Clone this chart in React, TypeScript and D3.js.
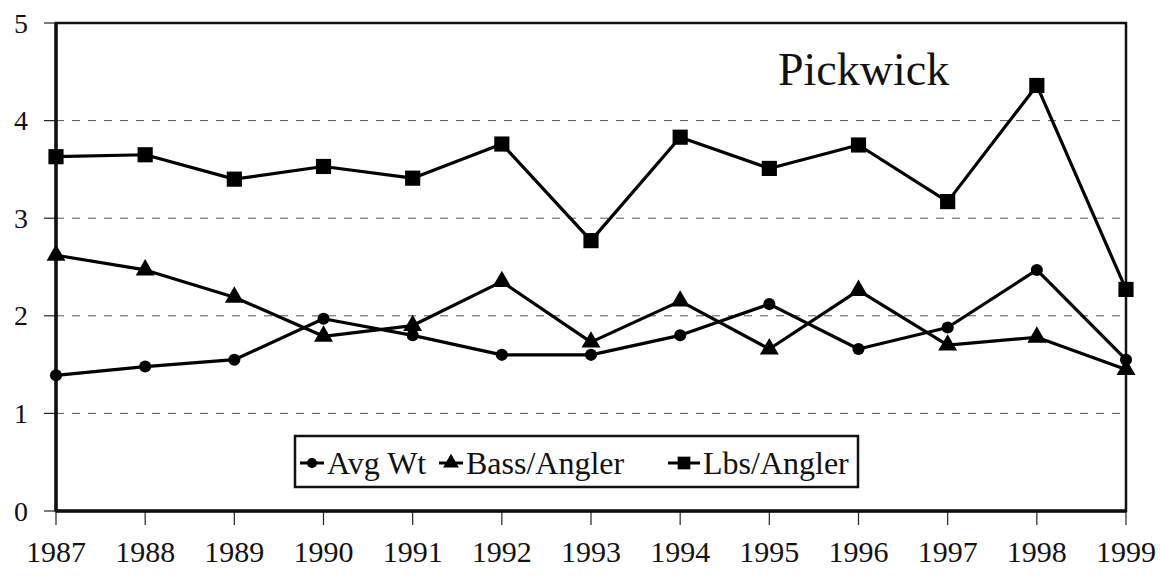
import React from 'react';
import * as d3 from 'd3';

// values
const years = [1987, 1988, 1989, 1990, 1991, 1992, 1993, 1994, 1995, 1996, 1997, 1998, 1999];
const avgWt = [1.39, 1.48, 1.55, 1.97, 1.8, 1.6, 1.6, 1.8, 2.12, 1.66, 1.88, 2.47, 1.55];
const bassPerAngler = [2.62, 2.47, 2.19, 1.79, 1.9, 2.35, 1.73, 2.15, 1.66, 2.26, 1.7, 1.78, 1.45];
const lbsPerAngler = [3.63, 3.65, 3.4, 3.53, 3.41, 3.76, 2.77, 3.83, 3.51, 3.75, 3.17, 4.36, 2.27];
const yTicks = [0, 1, 2, 3, 4, 5];
const title = 'Pickwick';

const series = [
  { name: 'Avg Wt', values: avgWt, symbol: d3.symbolCircle, size: 115 },
  { name: 'Bass/Angler', values: bassPerAngler, symbol: d3.symbolTriangle, size: 155 },
  { name: 'Lbs/Angler', values: lbsPerAngler, symbol: d3.symbolSquare, size: 230 }
];

const W = 1160;
const H = 577;
const FONT = 'Liberation Serif';

const left = 56, right = 1126, top = 23, bottom = 511;
const x = d3.scaleLinear().domain([years[0], years[years.length - 1]]).range([left, right]);
const y = d3.scaleLinear().domain([0, 5]).range([bottom, top]);

const line = d3.line<number>()
  .x((_, i) => x(years[i]))
  .y(d => y(d));

// legend layout (relative to legend box)
const legendX = 295, legendY = 436, legendW = 563, legendH = 51;
const itemX = [5, 144, 373];
const lineW = [24, 24, 32];

const App = () => {
  return (
    <div style={{ position: 'absolute', left: 0, top: 0, width: W, height: H, background: '#fff' }}>
      <svg width={W} height={H}>
        {/* dashed gridlines */}
        {yTicks.filter(t => t > 0 && t < 5).map(t => (
          <line key={'g' + t} x1={left} x2={right} y1={y(t)} y2={y(t)}
            stroke="#555" strokeWidth={1} strokeDasharray="8,8" />
        ))}

        {/* y ticks + labels */}
        {yTicks.map(t => (
          <g key={'y' + t}>
            <line x1={left - 12} x2={left} y1={y(t)} y2={y(t)} stroke="#222" strokeWidth={1.2} />
            <text x={28} y={y(t)} dy="0.34em" textAnchor="end" fill="#111"
              style={{ fontFamily: FONT, fontSize: 28 }}>{t}</text>
          </g>
        ))}

        {/* x ticks + labels */}
        {years.map(yr => (
          <g key={'x' + yr}>
            <line x1={x(yr)} x2={x(yr)} y1={bottom} y2={bottom + 14} stroke="#222" strokeWidth={1.2} />
            <text x={x(yr)} y={bottom + 51} textAnchor="middle" fill="#111"
              style={{ fontFamily: FONT, fontSize: 30 }}>{yr}</text>
          </g>
        ))}

        {/* plot frame */}
        <rect x={left} y={top} width={right - left} height={bottom - top}
          fill="none" stroke="#111" strokeWidth={2.5} />
        <line x1={left} x2={left} y1={top} y2={bottom} stroke="#111" strokeWidth={3.5} />
        <line x1={left} x2={right} y1={bottom} y2={bottom} stroke="#111" strokeWidth={3.5} />

        {/* title */}
        <text x={778} y={85} fill="#111" style={{ fontFamily: FONT, fontSize: 46 }}>{title}</text>

        {/* series */}
        {series.map(s => (
          <g key={s.name}>
            <path d={line(s.values) || ''} fill="none" stroke="#000" strokeWidth={3.2} strokeLinejoin="round" />
            {s.values.map((v, i) => (
              <path key={i} d={d3.symbol().type(s.symbol).size(s.size)() || ''}
                transform={`translate(${x(years[i])},${y(v)})`} fill="#000" />
            ))}
          </g>
        ))}

        {/* legend */}
        <g transform={`translate(${legendX},${legendY})`}>
          <rect width={legendW} height={legendH} fill="#fff" stroke="#111" strokeWidth={2.5} />
          {series.map((s, i) => (
            <g key={s.name} transform={`translate(${itemX[i]},27)`}>
              <line x1={0} x2={lineW[i]} y1={0} y2={0} stroke="#000" strokeWidth={3} />
              <path d={d3.symbol().type(s.symbol).size(s.size * 0.7)() || ''}
                transform={`translate(${lineW[i] / 2},0)`} fill="#000" />
              <text x={lineW[i] + 3} y={0} dy="0.34em" fill="#111"
                style={{ fontFamily: FONT, fontSize: 32 }}>{s.name}</text>
            </g>
          ))}
        </g>
      </svg>
    </div>
  );
};

export default App;
